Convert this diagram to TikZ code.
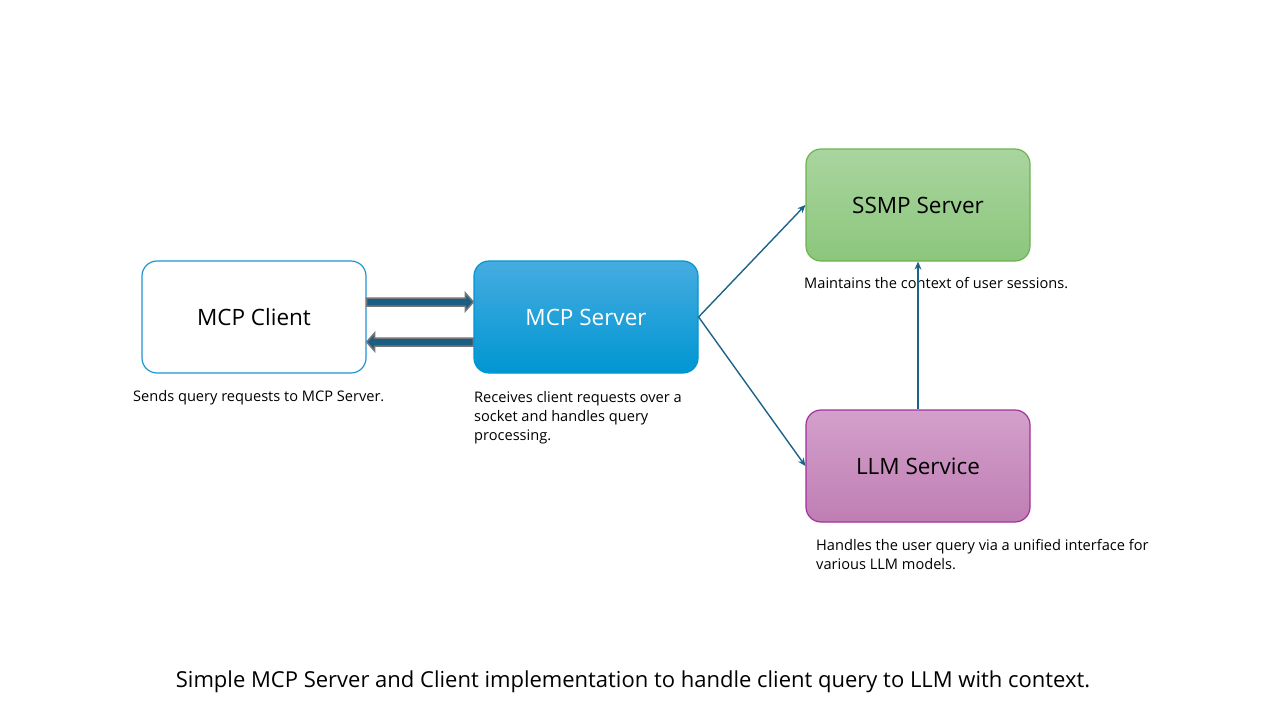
\documentclass[tikz,border=0pt]{standalone}
\usepackage{fontspec}
\setmainfont{Open Sans}
\usetikzlibrary{positioning,calc,arrows.meta}
\tikzset{>={Stealth[length=8pt,width=7pt]}}
\definecolor{clientblue}{RGB}{30,150,210}
\definecolor{servertop}{RGB}{70,172,224}
\definecolor{serverbot}{RGB}{0,150,210}
\definecolor{ssmptop}{RGB}{169,213,159}
\definecolor{ssmpbot}{RGB}{140,198,124}
\definecolor{ssmpline}{RGB}{109,178,79}
\definecolor{llmtop}{RGB}{211,160,203}
\definecolor{llmbot}{RGB}{191,126,179}
\definecolor{llmline}{RGB}{163,48,154}
\definecolor{linkblue}{RGB}{28,99,137}
\definecolor{fatblue}{RGB}{27,94,132}
\definecolor{fatgray}{RGB}{119,119,119}
\tikzset{
  box/.style={rounded corners=15pt, minimum width=224pt, minimum height=112pt,
    line width=1.2pt, font=\fontsize{22.5}{26}\selectfont},
  note/.style={anchor=north west, align=left, inner sep=0pt,
    font=\fontsize{14.6}{19}\selectfont},
  link/.style={->, draw=linkblue, line width=1.4pt},
  fatarrow/.style={fill=fatblue, draw=fatgray, line width=1.5pt},
}

\begin{document}
\begin{tikzpicture}[x=1pt,y=-1pt]
    \useasboundingbox (0,0) rectangle (1280,720);

    % boxes
    \node[box, draw=clientblue, fill=white] (client) at (254,317) {MCP Client};
    \node[box, draw=serverbot, top color=servertop, bottom color=serverbot,
      text=white] (server) at (586,317) {MCP Server};
    \node[box, draw=ssmpline, top color=ssmptop, bottom color=ssmpbot] (ssmp) at (918,205) {SSMP Server};
    \node[box, draw=llmline, top color=llmtop, bottom color=llmbot] (llm) at (918,466) {LLM Service};

    % notes
    \node[note] (clientnote) at (133,390) {Sends query requests to MCP Server.};
    \node[note] (servernote) at (474,391) {Receives client requests over a\\socket and handles query\\processing.};
    \node[note] (ssmpnote) at (804,277) {Maintains the context of user sessions.};
    \node[note] (llmnote) at (816,539) {Handles the user query via a unified interface for\\various LLM models.};

    % client <-> server
    \coordinate (t1) at ([yshift=15pt]client.east);
    \coordinate (t2) at ([yshift=15pt]server.west);
    \coordinate (b1) at ([yshift=-25pt]server.west);
    \coordinate (b2) at ([yshift=-25pt]client.east);
    \draw[fatarrow] ($(t1)+(0,-4)$) -- ($(t2)+(-8,-4)$) -- ($(t2)+(-8,-9)$) -- (t2)
      -- ($(t2)+(-8,9)$) -- ($(t2)+(-8,4)$) -- ($(t1)+(0,4)$) -- cycle;
    \draw[fatarrow] ($(b1)+(0,-4)$) -- ($(b2)+(8,-4)$) -- ($(b2)+(8,-9)$) -- (b2)
      -- ($(b2)+(8,9)$) -- ($(b2)+(8,4)$) -- ($(b1)+(0,4)$) -- cycle;

    % links
    \draw[link] (server.east) -- (ssmp.west);
    \draw[link] (server.east) -- (llm.west);
    \draw[link] (llm.north) -- (ssmp.south);

    \node[font=\fontsize{22}{26}\selectfont] (caption) at (633,682)
      {Simple MCP Server and Client implementation to handle client query to LLM with context.};
\end{tikzpicture}
\end{document}
